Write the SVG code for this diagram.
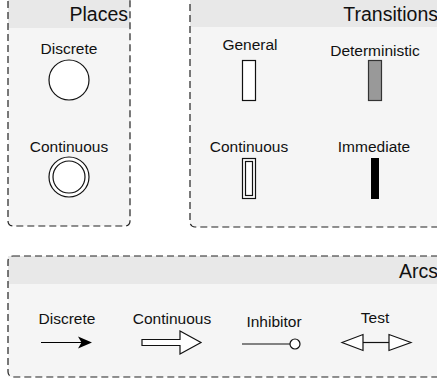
<svg xmlns="http://www.w3.org/2000/svg" width="437" height="385" viewBox="0 0 437 385">
<style>
.hdr{fill:#e8e8e8}
.bg{fill:#f5f5f5}
.frame{fill:none;stroke:#222;stroke-width:1.2;stroke-dasharray:7 4}
.t{font-family:"Liberation Sans",Arial,sans-serif;font-size:15.5px;fill:#111;text-anchor:middle}
.h{font-family:"Liberation Sans",Arial,sans-serif;font-size:19.5px;fill:#111;text-anchor:end}
.s{fill:#fff;stroke:#111;stroke-width:1.2}
</style>
<g id="places">
<rect class="hdr" x="8" y="-6" width="122" height="34"/>
<rect class="bg" x="8" y="28" width="122" height="198"/>
<rect class="frame" x="8" y="-6" width="122" height="232" rx="5"/>
<text class="h" x="128" y="21">Places</text>
</g>
<g id="place-discrete">
<text class="t" x="69" y="54">Discrete</text>
<circle class="s" cx="69" cy="80" r="20"/>
</g>
<g id="place-continuous">
<text class="t" x="69" y="152">Continuous</text>
<circle class="s" cx="69" cy="177" r="20"/>
<circle class="s" cx="69" cy="177" r="16"/>
</g>
<g id="transitions">
<rect class="hdr" x="190" y="-6" width="260" height="33"/>
<rect class="bg" x="190" y="27" width="260" height="200"/>
<rect class="frame" x="190" y="-6" width="260" height="233" rx="5"/>
<text class="h" x="438" y="21">Transitions</text>
</g>
<g id="tr-general">
<text class="t" x="250" y="50">General</text>
<rect class="s" x="242.5" y="60.5" width="13" height="40"/>
</g>
<g id="tr-deterministic">
<text class="t" x="375" y="56">Deterministic</text>
<rect x="368.5" y="60.5" width="13" height="40" fill="#999" stroke="#333" stroke-width="1.2"/>
</g>
<g id="tr-continuous">
<text class="t" x="249" y="152">Continuous</text>
<rect class="s" x="242.5" y="158.5" width="13" height="40"/>
<rect class="s" x="245.5" y="161.5" width="7" height="34"/>
</g>
<g id="tr-immediate">
<text class="t" x="374" y="152">Immediate</text>
<rect x="371" y="158" width="8" height="41" fill="#000"/>
</g>
<g id="arcs">
<rect class="hdr" x="8" y="256" width="440" height="28"/>
<rect class="bg" x="8" y="284" width="440" height="93"/>
<rect class="frame" x="8" y="256" width="440" height="121" rx="5"/>
<text class="h" x="438" y="278">Arcs</text>
</g>
<g id="arc-discrete">
<text class="t" x="67" y="324">Discrete</text>
</g>
<g id="arc-continuous">
<text class="t" x="172" y="324">Continuous</text>
</g>
<g id="arc-inhibitor">
<text class="t" x="274" y="327">Inhibitor</text>
</g>
<g id="arc-test">
<text class="t" x="375" y="323">Test</text>
</g>
<g id="connectors">
<line x1="41" y1="342.5" x2="82" y2="342.5" stroke="#000" stroke-width="1.2"/>
<path d="M92,342.5 L78,336.5 L81.5,342.5 L78,348.5 Z" fill="#000"/>
<path d="M142,339.5 L180,339.5 L180,331 L201,342.5 L180,354 L180,345.5 L142,345.5 Z" fill="#fff" stroke="#111" stroke-width="1.2"/>
<line x1="242" y1="344" x2="290" y2="344" stroke="#111" stroke-width="1.2"/>
<circle cx="295" cy="344" r="5" fill="#fff" stroke="#111" stroke-width="1.2"/>
<line x1="363" y1="342.5" x2="389" y2="342.5" stroke="#111" stroke-width="1.2"/>
<path d="M342,342.5 L363,334.5 L363,350.5 Z" fill="#fff" stroke="#111" stroke-width="1.2"/>
<path d="M411,342.5 L389,334.5 L389,350.5 Z" fill="#fff" stroke="#111" stroke-width="1.2"/>
</g>
</svg>
